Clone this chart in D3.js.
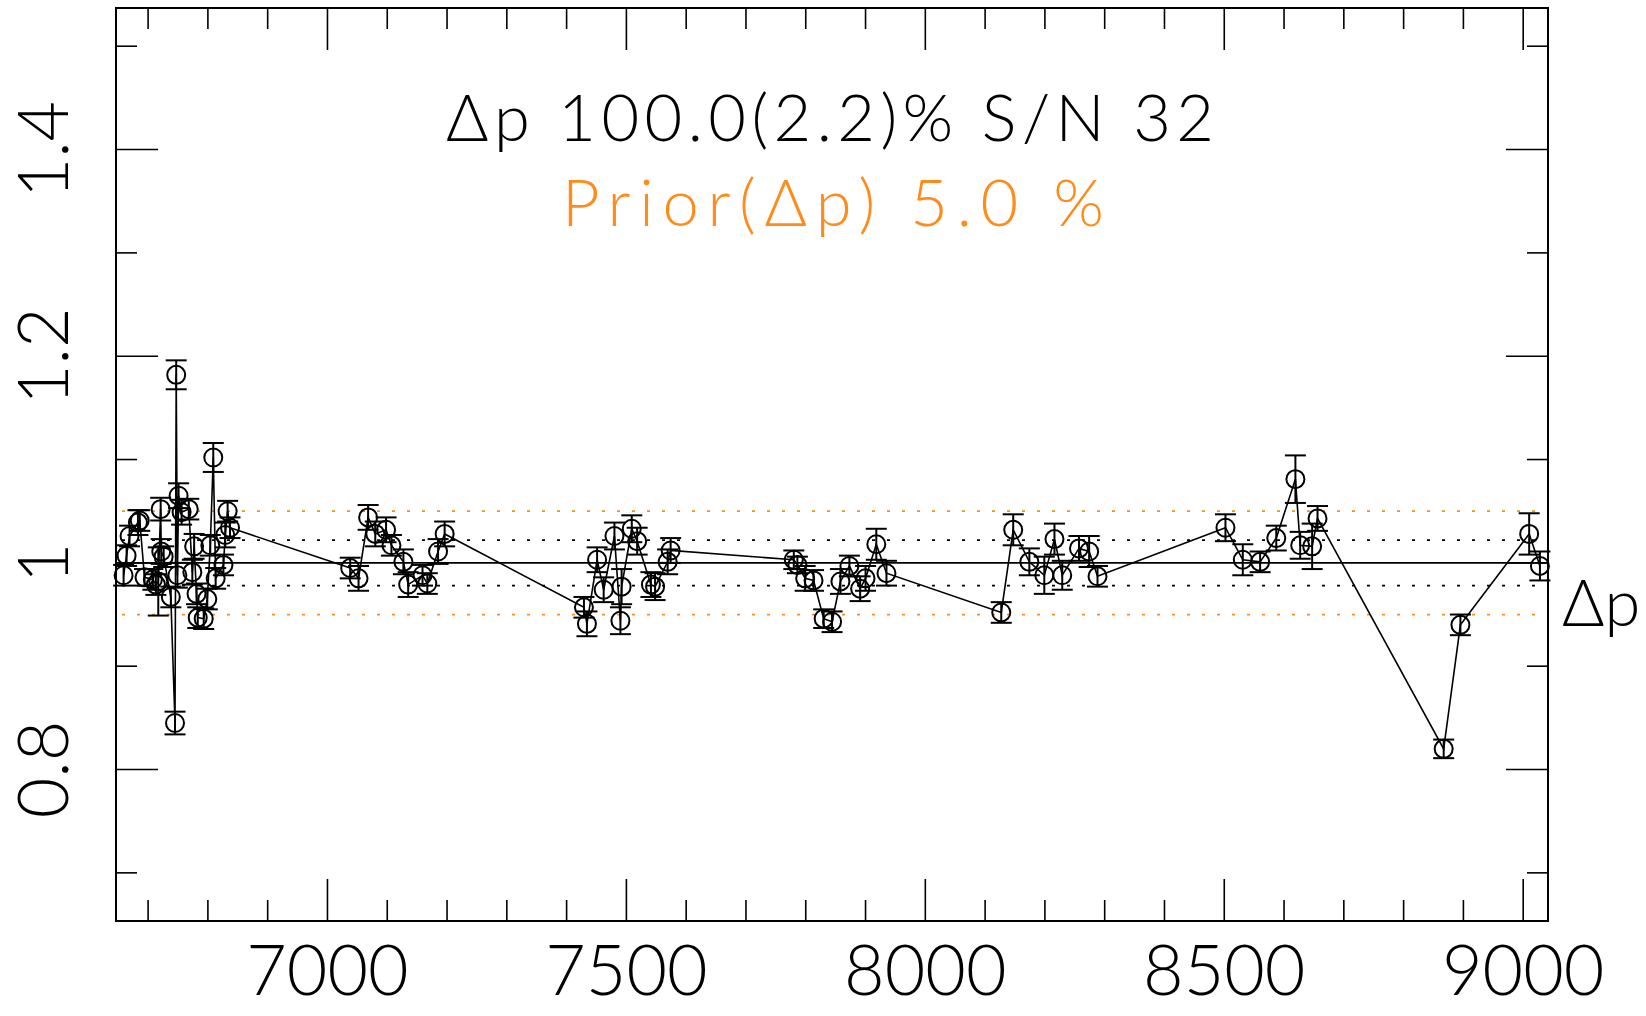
<!DOCTYPE html>
<html><head><meta charset="utf-8">
<script src="https://cdn.jsdelivr.net/npm/d3@7"></script>
<style>
html,body{margin:0;padding:0;background:#fff;}
svg{display:block;}
text{font-family:'Lato','DejaVu Sans',sans-serif;font-weight:300;}
</style></head>
<body>
<svg id="c" width="1646" height="1016"></svg>
<script>
const wavelength = [6659,6664,6669,6683,6686,6694,6708,6713,6717,6721,6722,6726,6738,6745,6747,6749,6751,6756,6768,6774,6777,6781,6783,6793,6799,6804,6809,6813,6826,6829,6833,6837,
7038,7052,7068,7080,7098,7107,7127,7135,7159,7167,7185,7196,
7429,7434,7451,7462,7480,7490,7492,7509,7518,7541,7548,7569,7574,
7780,7786,7799,7813,7830,7844,7858,7873,7891,7900,7918,7935,
8127,8147,8174,8199,8216,8229,8257,8274,8288,
8502,8531,8560,8587,8619,8627,8647,8656,
8867,8895,9010,9028];
const ratio = [0.988,1.007,1.026,1.039,1.041,0.986,0.984,0.979,0.982,1.052,1.011,1.006,0.967,0.845,1.182,0.988,1.065,1.049,1.052,0.991,1.016,0.970,0.947,0.946,0.965,1.017,1.102,0.985,0.998,1.027,1.050,1.034,
0.995,0.985,1.044,1.028,1.032,1.017,1.001,0.979,0.988,0.980,1.011,1.028,
0.957,0.941,1.003,0.974,1.026,0.944,0.977,1.033,1.021,0.979,0.977,1.001,1.012,
1.003,0.998,0.985,0.983,0.946,0.943,0.982,0.997,0.975,0.985,1.018,0.990,
0.952,1.032,1.001,0.988,1.023,0.988,1.014,1.011,0.987,
1.034,1.003,1.001,1.024,1.081,1.017,1.016,1.043,
0.820,0.940,1.028,0.997];
const errs = [0.010,0.010,0.010,0.012,0.010,0.008,0.010,0.010,0.033,0.011,0.012,0.010,0.010,0.011,0.014,0.012,0.012,0.012,0.010,0.012,0.012,0.010,0.010,0.010,0.010,0.010,0.014,0.010,0.010,0.012,0.010,0.010,
0.010,0.012,0.012,0.012,0.012,0.010,0.012,0.012,0.010,0.010,0.012,0.012,
0.010,0.012,0.012,0.012,0.013,0.013,0.017,0.013,0.013,0.012,0.013,0.012,0.012,
0.009,0.008,0.012,0.010,0.009,0.010,0.012,0.010,0.012,0.012,0.015,0.012,
0.010,0.015,0.013,0.018,0.015,0.014,0.012,0.015,0.010,
0.013,0.015,0.010,0.012,0.023,0.013,0.022,0.012,
0.009,0.010,0.020,0.014];
const xTicks = [7000,7500,8000,8500,9000];
const yTicks = [0.8,1,1.2,1.4];
const yTickLabels = ["0.8","1","1.2","1.4"];
const centre = 1.0, noiseBand = 0.022, priorBand = 0.05;
const titleText = "Δp 100.0(2.2)% S/N 32";
const priorText = "Prior(Δp) 5.0 %";
const sideLabel = "Δp";

const W=1646,H=1016;
const L=116,R=1548,T=8,B=921;
const svg=d3.select("#c");
svg.append("rect").attr("width",W).attr("height",H).attr("fill","#fff");
const x=d3.scaleLinear().domain([6646.3,9041.5]).range([L,R]);
const y=d3.scaleLinear().domain([0.6534,1.537]).range([B,T]);
const orange="#ff8c1a";

const xMinor=d3.range(6700,9041,100);
const yMinor=d3.range(0.7,1.54,0.1);
const g=svg.append("g").attr("stroke","#000").attr("stroke-width",1.6);
xMinor.forEach(v=>{
  const len=(Math.round(v)%500===0)?42:21;
  g.append("line").attr("x1",x(v)).attr("x2",x(v)).attr("y1",B).attr("y2",B-len);
  g.append("line").attr("x1",x(v)).attr("x2",x(v)).attr("y1",T).attr("y2",T+len);
});
yMinor.forEach(v=>{
  const k=Math.round(v*10);
  const len=(k%2===0)?42:21;
  g.append("line").attr("y1",y(v)).attr("y2",y(v)).attr("x1",L).attr("x2",L+len);
  g.append("line").attr("y1",y(v)).attr("y2",y(v)).attr("x1",R).attr("x2",R-len);
});

svg.append("line").attr("x1",L).attr("x2",R).attr("y1",y(centre)).attr("y2",y(centre)).attr("stroke","#000").attr("stroke-width",1.8);
[centre+noiseBand,centre-noiseBand].forEach(v=>svg.append("line").attr("x1",L+6).attr("x2",R-4).attr("y1",y(v)).attr("y2",y(v)).attr("stroke","#000").attr("stroke-width",1.8).attr("stroke-dasharray","3,12"));
[centre+priorBand,centre-priorBand].forEach(v=>svg.append("line").attr("x1",L+6).attr("x2",R-4).attr("y1",y(v)).attr("y2",y(v)).attr("stroke",orange).attr("stroke-width",1.8).attr("stroke-dasharray","3,12"));

const data=wavelength.map((w,i)=>({w,r:ratio[i],e:errs[i]}));
svg.append("path").datum(data).attr("fill","none").attr("stroke","#000").attr("stroke-width",1.6)
  .attr("d",d3.line().x(d=>x(d.w)).y(d=>y(d.r)));
const pg=svg.append("g").attr("stroke","#000").attr("stroke-width",2).attr("fill","none");
data.forEach(d=>{
  const cx=x(d.w);
  pg.append("line").attr("x1",cx).attr("x2",cx).attr("y1",y(d.r-d.e)).attr("y2",y(d.r+d.e));
  pg.append("line").attr("x1",cx-10.5).attr("x2",cx+10.5).attr("y1",y(d.r-d.e)).attr("y2",y(d.r-d.e));
  pg.append("line").attr("x1",cx-10.5).attr("x2",cx+10.5).attr("y1",y(d.r+d.e)).attr("y2",y(d.r+d.e));
  pg.append("circle").attr("cx",cx).attr("cy",y(d.r)).attr("r",9);
});

svg.append("rect").attr("x",L).attr("y",T).attr("width",R-L).attr("height",B-T).attr("fill","none").attr("stroke","#000").attr("stroke-width",2);

xTicks.forEach(v=>svg.append("text").attr("x",x(v)).attr("y",995).attr("text-anchor","middle").attr("font-size",70).attr("fill","#000").text(String(v)));
yTicks.forEach((v,i)=>svg.append("text").attr("transform",`translate(68,${y(v)}) rotate(-90)`).attr("text-anchor","middle").attr("font-size",70).attr("fill","#000").text(yTickLabels[i]));

svg.append("text").attr("x",830).attr("y",141).attr("text-anchor","middle").attr("font-size",65).attr("fill","#000")
  .attr("textLength",768).attr("lengthAdjust","spacing").text(titleText);
svg.append("text").attr("x",833).attr("y",226).attr("text-anchor","middle").attr("font-size",65).attr("fill",orange)
  .attr("textLength",542).attr("lengthAdjust","spacing").text(priorText);
svg.append("text").attr("x",1562).attr("y",626).attr("font-size",65).attr("fill","#000").text(sideLabel);
</script>
</body></html>
